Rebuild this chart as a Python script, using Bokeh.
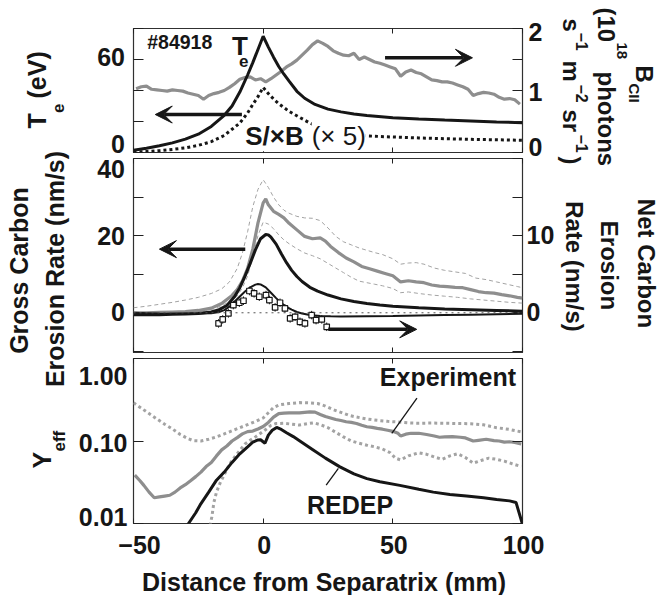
import math
from bokeh.plotting import figure
from bokeh.models import (Range1d, LinearAxis, LogAxis, FixedTicker, Label, Arrow,
                          VeeHead, Span, CustomJSTickFormatter)
from bokeh.layouts import column, row
from bokeh.embed import file_html
from bokeh.resources import INLINE

# ------------------------------------------------------------------ data
X_RANGE = (-50, 100)
X_TICKS = [-50, 0, 50, 100]
X_TICK_TEXT = ["\u221250", "0", "50", "100"]

TE_RANGE = (0, 80)
TE_TICKS = [0, 20, 40, 60, 80]
TE_LABELS = [(0, "0"), (60, "60")]
BCII_RANGE = (0, 2)
BCII_TICKS = [0, 0.5, 1, 1.5, 2]
BCII_LABELS = [(0, "0"), (1, "1"), (2, "2")]
GROSS_RANGE = (-10.3, 40)
GROSS_TICKS = [-10, 0, 10, 20, 30, 40]
GROSS_LABELS = [(0, "0"), (20, "20"), (40, "40")]
NET_RANGE = (-5.15, 20)
NET_TICKS = [-5, 0, 5, 10, 15, 20]
NET_LABELS = [(0, "0"), (10, "10")]
Y_RANGE = (0.01, 1.0)
Y_TICKS = [0.01, 0.1, 1.0]
Y_LABELS = [(0.01, "0.01"), (0.1, "0.10"), (1.0, "1.00")]

# top panel: Te (eV), S/XB x5, B_CII (1e18 photons ...)
TE_X = [-50, -45, -40, -35, -30, -25, -20, -15, -12, -9, -6, -4, -2, 0, 2, 4, 6, 8, 10,
        13, 16, 20, 25, 30, 35, 40, 50, 60, 70, 80, 90, 100]
TE = [1.5, 2.8, 4.3, 6.2, 8.6, 11.8, 16.8, 24.0, 30.0, 39.0, 50.0, 58.0, 66.5, 75.0, 68.0,
      61.5, 55.5, 50.5, 46.0, 39.5, 35.0, 31.0, 28.0, 26.2, 24.8, 23.8, 22.4, 21.6, 20.9,
      20.3, 19.7, 19.2]
SXB_X = [-50, -45, -40, -35, -30, -25, -20, -15, -12, -9, -6, -4, -2, 0, 2, 4, 6, 8, 10,
         14, 18, 22, 26, 30, 35, 40, 50, 60, 70, 80, 90, 100]
SXB = [0.3, 0.6, 1.2, 2.0, 3.0, 4.6, 7.0, 11.0, 15.0, 19.0, 25.5, 31.0, 36.0, 42.0, 38.0,
       34.5, 31.5, 29.0, 26.5, 22.7, 19.0, 16.0, 13.8, 12.3, 11.3, 10.7, 10.0, 9.4, 8.9,
       8.5, 8.2, 7.9]
BCII_X = list(range(-49, 101, 2))
BCII = [1.03, 1.06, 1.07, 1.02, 1.01, 1.00, 0.99, 1.01, 1.00, 0.99, 0.96, 0.94, 0.92,
        0.86, 0.92, 0.95, 0.97, 1.00, 1.05, 1.11, 1.18, 1.21, 1.22, 1.17, 1.19,
        1.14, 1.19, 1.25, 1.31, 1.38, 1.43, 1.49, 1.57, 1.65, 1.74, 1.80, 1.76, 1.71,
        1.64, 1.60, 1.57, 1.56, 1.60, 1.50, 1.54, 1.50, 1.46, 1.44, 1.41, 1.38, 1.35,
        1.23, 1.30, 1.33, 1.29, 1.27, 1.22, 1.17, 1.16, 1.14, 1.14, 1.12, 1.09, 1.06,
        1.02, 0.92, 0.95, 0.97, 0.96, 0.94, 0.89, 0.86, 0.87, 0.85, 0.78]

# middle panel: gross erosion (nm/s) experiment + bounds, model; net erosion
GX = [-50, -45, -40, -35, -30, -25, -20, -16, -12, -10, -8, -6, -4, -2, 0, 1, 2, 4, 6, 8,
      10, 13, 16, 19, 22, 24, 26, 29, 32, 35, 38, 41, 44, 47, 50, 53, 56, 59, 62, 65, 68,
      71, 74, 77, 80, 83, 86, 89, 92, 95, 98, 100]
GROSS_EXP = [0.0, 0.0, 0.1, 0.2, 0.3, 0.6, 1.2, 2.4, 4.5, 6.0, 8.2, 11.5, 16.5, 23.3,
             28.5, 29.5, 28.0, 26.3, 25.5, 24.6, 23.2, 21.5, 19.8, 19.2, 19.4, 18.6, 17.2,
             15.6, 14.2, 13.2, 12.0, 11.4, 10.8, 10.2, 9.6, 8.0, 8.3, 8.0, 7.8, 7.2, 6.9,
             6.8, 6.6, 6.5, 6.0, 5.5, 5.2, 5.1, 4.7, 4.4, 4.0, 3.8]
GHI_X = [-50, -45, -40, -35, -30, -25, -20, -16, -13, -10, -8, -6, -4, -2, 0, 2, 4, 6, 8,
         10, 13, 16, 19, 22, 25, 28, 31, 34, 37, 40, 43, 46, 50, 53, 56, 59, 62, 66, 70,
         74, 78, 82, 86, 90, 94, 98, 100]
GROSS_HI = [1.3, 1.7, 2.2, 2.7, 3.3, 4.0, 5.0, 6.2, 8.0, 11.5, 15.5, 21.0, 27.5, 32.0,
            34.5, 32.5, 30.0, 28.0, 26.6, 25.8, 25.0, 24.6, 24.5, 23.9, 22.0, 19.8, 18.4,
            17.6, 16.8, 16.2, 15.6, 15.1, 14.0, 12.6, 12.9, 13.0, 12.6, 11.6, 11.0, 10.6,
            10.2, 9.0, 8.6, 8.0, 7.4, 6.8, 6.5]
GLO_X = [-50, -45, -40, -35, -30, -25, -20, -16, -13, -10, -8, -6, -4, -2, 0, 2, 4, 6, 8,
         10, 13, 16, 19, 22, 25, 28, 31, 34, 37, 40, 43, 46, 50, 53, 56, 60, 65, 70, 75,
         80, 85, 90, 95, 100]
GROSS_LO = [-0.4, -0.4, -0.3, -0.2, -0.1, 0.1, 0.8, 1.8, 2.9, 4.3, 6.5, 9.5, 14.5, 20.0,
            23.5, 23.0, 21.8, 20.2, 18.9, 17.9, 16.6, 15.5, 14.8, 14.0, 12.8, 11.6, 10.4,
            9.2, 8.2, 7.8, 7.4, 7.0, 6.3, 5.2, 5.4, 5.0, 4.6, 4.3, 4.0, 3.6, 3.3, 3.0,
            2.7, 2.5]
MG_X = [-50, -45, -40, -35, -30, -25, -20, -17, -14, -11, -9, -7, -5, -3, -1, 1, 2, 3, 5,
        7, 9, 11, 13, 15, 18, 21, 25, 30, 35, 40, 45, 50, 60, 70, 80, 90, 100]
GROSS_MODEL = [-0.5, -0.5, -0.5, -0.4, -0.3, -0.2, 0.2, 0.8, 1.9, 4.2, 6.5, 9.5, 12.8,
               16.3, 19.2, 20.3, 20.2, 19.6, 17.8, 15.3, 13.0, 11.0, 9.4, 8.1, 6.6, 5.6,
               4.6, 3.6, 2.9, 2.4, 2.0, 1.7, 1.3, 1.0, 0.8, 0.6, 0.4]
MN_X = [-50, -45, -40, -35, -30, -25, -20, -17, -15, -13, -11, -9, -7, -5, -3, -2, -1, 1,
        3, 5, 7, 9, 11, 13, 15, 18, 22, 26, 30, 40, 50, 60, 70, 80, 90, 100]
NET_MODEL = [0.0, -0.05, -0.1, -0.12, -0.12, -0.1, -0.05, 0.1, 0.35, 0.8, 1.45, 2.1,
             2.75, 3.3, 3.65, 3.72, 3.68, 3.3, 2.6, 1.9, 1.25, 0.75, 0.4, 0.1, -0.1, -0.3,
             -0.42, -0.46, -0.47, -0.45, -0.42, -0.36, -0.3, -0.24, -0.18, -0.12]
ND_X = [-17.2, -15.6, -13.4, -11.5, -9.2, -7.6, -5.3, -3.5, -1.5, 1.1, 2.4, 4.6, 6.5, 8.4,
        10.4, 12.3, 14.2, 16.1, 18.7, 20.4, 22.6, 24.5]
NET_DATA = [-1.38, -0.86, -0.08, 1.0, 1.3, 1.56, 2.82, 2.52, 2.08, 2.3, 1.65, 0.7, 1.3,
            0.57, -0.73, -0.52, -1.17, -1.38, -0.3, -0.95, -0.86, -1.82]
NET_ERR = 0.55

# bottom panel: Y_eff
YEXP_X = [-49.5, -47.5, -46, -44, -42, -40, -38, -36, -34, -32, -30, -28, -26, -24, -22,
          -20, -18, -16, -14, -12, -10, -8, -6, -4, -2, 0, 2, 4, 6, 8, 10, 12, 14, 16, 18,
          20, 22, 24, 26, 28, 30, 32, 34, 36, 38, 40, 42, 44, 46, 48, 50, 52, 53, 55, 57,
          60, 63, 66, 68, 70, 73, 76, 78, 81, 83, 86, 89, 91, 93, 95, 97, 99.5]
YEFF_EXP = [0.0386, 0.033, 0.029, 0.024, 0.0205, 0.021, 0.0215, 0.022, 0.024, 0.027,
            0.0295, 0.033, 0.037, 0.042, 0.049, 0.055, 0.066, 0.078, 0.087, 0.100,
            0.110, 0.122, 0.130, 0.132, 0.140, 0.150, 0.168, 0.195, 0.215, 0.218,
            0.219, 0.220, 0.219, 0.222, 0.225, 0.224, 0.210, 0.198, 0.190, 0.182,
            0.177, 0.171, 0.168, 0.163, 0.155, 0.149, 0.146, 0.142, 0.139, 0.135,
            0.131, 0.124, 0.115, 0.121, 0.124, 0.124, 0.120, 0.115, 0.111, 0.112,
            0.113, 0.111, 0.109, 0.100, 0.102, 0.105, 0.101, 0.100, 0.097, 0.098,
            0.096, 0.092]
YHI_X = [-50, -47, -44, -41, -38, -35, -32, -29, -27, -24, -21, -18, -15, -12, -9, -6, -3,
         0, 2, 4, 6.5, 10, 14, 18, 21, 24, 27, 30, 33, 36, 40, 44, 48, 52, 56, 60, 65, 70,
         75, 80, 85, 90, 95, 99.5]
YEFF_HI = [0.29, 0.25, 0.215, 0.185, 0.16, 0.14, 0.12, 0.107, 0.101, 0.100, 0.105, 0.112,
           0.122, 0.133, 0.145, 0.158, 0.172, 0.19, 0.22, 0.255, 0.275, 0.285, 0.292,
           0.29, 0.285, 0.265, 0.24, 0.222, 0.205, 0.195, 0.185, 0.178, 0.173, 0.17,
           0.166, 0.164, 0.165, 0.164, 0.163, 0.162, 0.157, 0.145, 0.138, 0.129]
YLO_X = [-21, -19.8, -19, -18, -16.6, -15, -13, -11, -9, -7, -5, -3, -1, 1, 3, 5, 8, 11,
         14, 17, 19.5, 22, 25, 28, 31, 34, 37, 40, 43, 46, 49, 51, 53, 56, 60, 63, 66, 69,
         72, 75, 78, 81, 84, 87, 90, 93, 96, 99.5]
YEFF_LO = [0.008, 0.012, 0.018, 0.024, 0.031, 0.039, 0.052, 0.064, 0.077, 0.092, 0.102,
           0.112, 0.124, 0.138, 0.155, 0.163, 0.164, 0.160, 0.156, 0.162, 0.166, 0.158,
           0.145, 0.127, 0.112, 0.100, 0.094, 0.089, 0.085, 0.080, 0.072, 0.062, 0.059,
           0.066, 0.072, 0.069, 0.064, 0.060, 0.066, 0.070, 0.063, 0.054, 0.058, 0.062,
           0.060, 0.057, 0.053, 0.049]
RD_X = [-30, -28.8, -26, -24.3, -21, -18, -15, -12, -9, -6, -4, -2, -1, 0.7, 2, 3.5, 5.2,
        7, 9, 11.6, 15, 19.3, 24, 29.6, 35, 40, 45, 52.7, 60, 65.6, 72, 78.4, 85, 90, 95,
        97.5, 100]
YEFF_REDEP = [0.0085, 0.010, 0.0135, 0.0168, 0.024, 0.0335, 0.042, 0.055, 0.070, 0.085,
              0.097, 0.103, 0.1035, 0.094, 0.118, 0.135, 0.146, 0.138, 0.126, 0.113,
              0.096, 0.078, 0.062, 0.0486, 0.040, 0.035, 0.032, 0.029, 0.026, 0.024,
              0.0225, 0.0215, 0.0205, 0.0195, 0.0188, 0.018, 0.0098]

# ------------------------------------------------------------------ style / layout
FONT = "Liberation Sans"
BLACK = "#161616"
GRAY = "#8e8e8e"
LGRAY = "#a3a3a3"
BASE_SHIFT = 0.36       # rendered cap centre sits on the anchor: shift by this many em

LEFT_W = 131            # width of the left text strip
FRAME_X0 = 133          # page x of the plot frames
FRAME_W = 389
RIGHT_X0 = 524          # page x where the right text strip begins
RIGHT_W = 136
F3_BOTTOM_BORDER = 8
COL_H = 155 + 200 + 3 + 165 + F3_BOTTOM_BORDER   # height of the stacked panels
BOTTOM_H = 64
F1_TOP, F1_H = 28, 124
F2_TOP, F2_H = 158, 194
F3_TOP, F3_H = 358, 165


def new_fig(frame_h, b_top, b_bottom, y_range, log=False):
    p = figure(frame_width=FRAME_W, frame_height=frame_h, min_border_left=2,
               min_border_right=2, min_border_top=b_top, min_border_bottom=b_bottom,
               x_range=Range1d(*X_RANGE), y_range=y_range,
               y_axis_type="log" if log else "linear",
               output_backend="svg", toolbar_location=None)
    p.grid.visible = False
    p.outline_line_color = "#303030"
    p.outline_line_width = 1.2
    p.background_fill_color = "white"
    p.border_fill_color = "white"
    return p


def tick_style(ax, ticks, tick_len):
    ax.ticker = FixedTicker(ticks=ticks, minor_ticks=[])
    ax.formatter = CustomJSTickFormatter(code="return ''")
    ax.major_tick_in = tick_len
    ax.major_tick_out = 0
    ax.minor_tick_in = 0
    ax.minor_tick_out = 0
    ax.axis_line_color = None
    ax.major_tick_line_color = "#202020"
    ax.major_tick_line_width = 1
    ax.major_label_text_font_size = "1px"
    ax.major_label_standoff = 0
    ax.axis_label = None


def add_axes(p, y_ticks, r_ticks, log=False):
    tick_style(p.xaxis[0], X_TICKS, 5)
    tick_style(p.yaxis[0], y_ticks, 10)
    top = LinearAxis()
    tick_style(top, X_TICKS, 5)
    p.add_layout(top, "above")
    right = LogAxis() if log else LinearAxis(y_range_name="r")
    tick_style(right, r_ticks, 10)
    p.add_layout(right, "right")


def text_fig(x0, w, y0, h):
    f = figure(width=w, height=h, x_range=Range1d(x0, x0 + w),
               y_range=Range1d(y0 + h, y0), min_border=0, output_backend="svg",
               toolbar_location=None, x_axis_location=None, y_axis_location=None)
    f.outline_line_color = None
    f.grid.visible = False
    f.background_fill_color = "white"
    f.border_fill_color = "white"
    return f


def ptext(f, px, py, text, size, angle=0.0, align="left", style="bold"):
    # (px, py): page position of the text baseline
    s = BASE_SHIFT * size
    if angle == 0.0:
        py -= s
    elif angle > 0:
        px -= s
    else:
        px += s
    f.add_layout(Label(x=px, y=py, text=text, angle=angle, text_align=align,
                       text_baseline="alphabetic", text_font=FONT,
                       text_font_style=style, text_font_size=f"{size}px",
                       text_color=BLACK))


def data_text(p, x, y, text, size, style="bold", bg=None):
    p.add_layout(Label(x=x, y=y, y_offset=BASE_SHIFT * size, text=text,
                       text_align="left", text_baseline="alphabetic", text_font=FONT,
                       text_font_style=style, text_font_size=f"{size}px",
                       text_color=BLACK, background_fill_color=bg))


def arrow(p, x0, y0, x1, y1, head=True, width=3.5, rname="default"):
    end = VeeHead(size=17, fill_color=BLACK, line_color=BLACK, line_width=1) if head else None
    p.add_layout(Arrow(end=end, x_start=x0, y_start=y0, x_end=x1, y_end=y1,
                       line_color=BLACK, line_width=width, y_range_name=rname))


def lin_y(v, rng, top, h):
    return top + h - (v - rng[0]) / (rng[1] - rng[0]) * h


def log_y(v, rng, top, h):
    return top + h - (math.log10(v) - math.log10(rng[0])) / (
        math.log10(rng[1]) - math.log10(rng[0])) * h


def x_page(v):
    return FRAME_X0 + (v - X_RANGE[0]) / (X_RANGE[1] - X_RANGE[0]) * FRAME_W


# ------------------------------------------------------------------ top panel
f1 = new_fig(F1_H, F1_TOP, 3, Range1d(*TE_RANGE))
f1.extra_y_ranges = {"r": Range1d(*BCII_RANGE)}
add_axes(f1, TE_TICKS, BCII_TICKS)
f1.line(BCII_X, BCII, y_range_name="r", line_color=GRAY, line_width=3.2)
f1.line(SXB_X, SXB, line_color=BLACK, line_width=3, line_dash="3 3")
f1.line(TE_X, TE, line_color=BLACK, line_width=3)

# ------------------------------------------------------------------ middle panel
f2 = new_fig(F2_H, 3, 3, Range1d(*GROSS_RANGE))
f2.extra_y_ranges = {"r": Range1d(*NET_RANGE)}
add_axes(f2, GROSS_TICKS, NET_TICKS)
f2.add_layout(Span(location=0, dimension="width", line_color="#555555", line_width=1,
                   line_dash="dotted"))
f2.line(GHI_X, GROSS_HI, line_color=LGRAY, line_width=1, line_dash="4 3")
f2.line(GLO_X, GROSS_LO, line_color=LGRAY, line_width=1, line_dash="4 3")
f2.line(GX, GROSS_EXP, line_color=GRAY, line_width=3.2)
f2.line(MG_X, GROSS_MODEL, line_color=BLACK, line_width=3)
f2.line(MN_X, NET_MODEL, y_range_name="r", line_color=BLACK, line_width=2)
f2.segment(x0=ND_X, y0=[v - NET_ERR for v in NET_DATA], x1=ND_X,
           y1=[v + NET_ERR for v in NET_DATA], y_range_name="r", line_color=BLACK,
           line_width=1)
f2.scatter(ND_X, NET_DATA, y_range_name="r", marker="square", size=5.5,
           fill_color="white", line_color=BLACK, line_width=1.2)

# ------------------------------------------------------------------ bottom panel
f3 = new_fig(F3_H, 3, F3_BOTTOM_BORDER, Range1d(*Y_RANGE), log=True)
add_axes(f3, Y_TICKS, Y_TICKS, log=True)
f3.line(YHI_X, YEFF_HI, line_color=LGRAY, line_width=3, line_dash="3 3")
f3.line(YLO_X, YEFF_LO, line_color=LGRAY, line_width=3, line_dash="3 3")
f3.line(YEXP_X, YEFF_EXP, line_color=GRAY, line_width=3.2)
f3.line(RD_X, YEFF_REDEP, line_color=BLACK, line_width=3)

# ------------------------------------------------------------------ in-plot annotations
data_text(f1, -44.7, 66.5, "#84918", 19.5)
data_text(f1, -12.0, 62.6, "T", 26)
data_text(f1, -9.3, 54.8, "e", 17)
data_text(f1, -6.9, 4.5, "S/\u00d7B", 26, bg="white")
data_text(f1, 18.7, 4.5, "(\u00d7 5)", 26, style="normal", bg="white")
arrow(f1, -8.2, 24.5, -41.6, 24.5)
arrow(f1, 47.0, 61.1, 80.7, 61.1)

arrow(f2, -6.9, 16.5, -40.0, 16.5)
arrow(f2, 25.1, -4.3, 59.2, -4.3)

data_text(f3, 45.0, 0.458, "Experiment", 25)
data_text(f3, 16.9, 0.0132, "REDEP", 25)
arrow(f3, 59.3, 0.332, 49.6, 0.1236, head=False, width=1.3)
arrow(f3, 29.0, 0.0465, 24.3, 0.0292, head=False, width=1.3)

# ------------------------------------------------------------------ text strips
L = text_fig(0, LEFT_W, 0, COL_H)
R = text_fig(RIGHT_X0, RIGHT_W, 0, COL_H)
B = text_fig(0, LEFT_W + 2 + FRAME_W + 2 + RIGHT_W, COL_H, BOTTOM_H)

UP = math.pi / 2
DOWN = -math.pi / 2
TS = 25

# tick labels (positions from the panels' scales, small baseline shifts as in the picture)
for v, t in TE_LABELS:
    ptext(L, 124.5, lin_y(v, TE_RANGE, F1_TOP, F1_H) + {0: 0, 60: 6}[v], t, TS, align="right")
for v, t in BCII_LABELS:
    ptext(R, 528, lin_y(v, BCII_RANGE, F1_TOP, F1_H) + {0: 3, 1: 10, 2: 12}[v], t, TS)
for v, t in GROSS_LABELS:
    ptext(L, 124.5, lin_y(v, GROSS_RANGE, F2_TOP, F2_H) + {0: 8, 20: 9, 40: 19}[v], t, TS,
          align="right")
for v, t in NET_LABELS:
    ptext(R, 526, lin_y(v, NET_RANGE, F2_TOP, F2_H) + 8, t, TS)
for v, t in Y_LABELS:
    ptext(L, 127, log_y(v, Y_RANGE, F3_TOP, F3_H) + {0.01: 2, 0.1: 11, 1.0: 26}[v], t, TS,
          align="right")
for v, t in zip(X_TICKS, X_TICK_TEXT):
    ptext(B, x_page(v) + (6 if v < 0 else 1), 553, t, TS, align="center")

# left titles
ptext(L, 45, 128, "T", TS, UP)
ptext(L, 64, 112.5, "e", 17, UP)
ptext(L, 45, 98, "(eV)", TS, UP)
ptext(L, 27, 270, "Gross Carbon", TS, UP, "center")
ptext(L, 63, 268.5, "Erosion Rate (nm/s)", TS, UP, "center")
ptext(L, 50, 468, "Y", TS, UP)
ptext(L, 65, 451, "eff", 17, UP)

# right titles
ptext(R, 635, 65, "B", 24, DOWN)
ptext(R, 629, 83, "CII", 15, DOWN)
ptext(R, 597, 7, "(10", 24, DOWN)
ptext(R, 616, 42, "18", 15, DOWN)
ptext(R, 597, 71, "photons", 24, DOWN)
ptext(R, 562, 18, "s", 24, DOWN)
ptext(R, 576, 32, "\u22121", 16, DOWN)
ptext(R, 562, 60, "m", 24, DOWN)
ptext(R, 576, 84, "\u22122", 16, DOWN)
ptext(R, 562, 109, "sr", 24, DOWN)
ptext(R, 576, 134, "\u22121", 16, DOWN)
ptext(R, 562, 156, ")", 24, DOWN)
ptext(R, 637, 263, "Net Carbon", 24, DOWN, "center")
ptext(R, 600, 265, "Erosion", 24, DOWN, "center")
ptext(R, 565, 266, "Rate (nm/s)", 24, DOWN, "center")

# x-axis title
ptext(B, 323.5, 590, "Distance from Separatrix (mm)", TS, align="center")

layout = column(row(L, column(f1, f2, f3), R), B)
open("out.html", "w").write(file_html(layout, INLINE))
